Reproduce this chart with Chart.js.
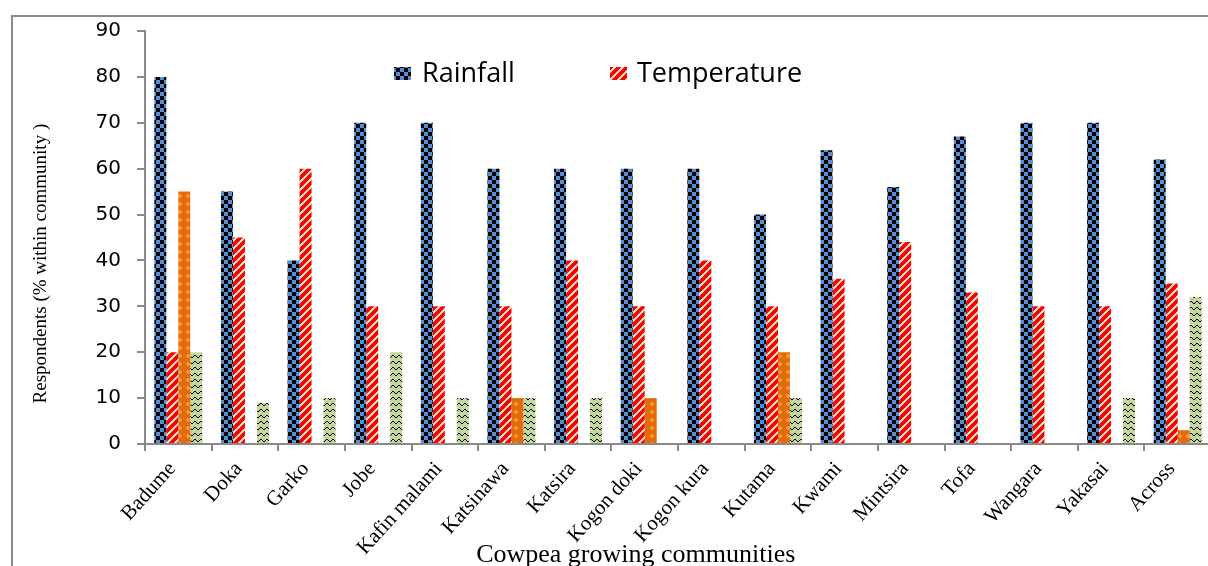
<!DOCTYPE html>
<html><head><meta charset="utf-8">
<script src="https://cdn.jsdelivr.net/npm/chart.js@4.4.1/dist/chart.umd.min.js"></script>
<style>
html,body{margin:0;padding:0;background:#fff;overflow:hidden;width:1208px;height:566px;}
#frame{position:absolute;left:11px;top:15px;width:1400px;height:800px;border:2px solid #8a8a8a;box-sizing:border-box;}
#wrap{position:absolute;left:0;top:0;width:1211px;height:566px;}
</style></head>
<body><div id="frame"></div><div id="wrap"><canvas id="c"></canvas></div>
<script>
const categories = ['Badume','Doka','Garko','Jobe','Kafin malami','Katsinawa','Katsira','Kogon doki','Kogon kura','Kutama','Kwami','Mintsira','Tofa','Wangara','Yakasai','Across'];
const rainfall    = [80,55,40,70,70,60,60,60,60,50,64,56,67,70,70,62];
const temperature = [20,45,60,30,30,30,40,30,40,30,36,44,33,30,30,35];
const series3     = [55,0,0,0,0,10,0,10,0,20,0,0,0,0,0,3];
const series4     = [20,9,10,20,10,10,10,0,0,10,0,0,0,0,10,32];
const seriesNames = ['Rainfall','Temperature','Series 3','Series 4'];
const yTicks = [0,10,20,30,40,50,60,70,80,90];

function makePattern(w, h, fn) {
  const c = document.createElement('canvas');
  c.width = w; c.height = h;
  const g = c.getContext('2d');
  const img = g.createImageData(w, h);
  for (let y = 0; y < h; y++) for (let x = 0; x < w; x++) {
    const col = fn(x, y);
    const i = (y * w + x) * 4;
    img.data[i] = col[0]; img.data[i+1] = col[1]; img.data[i+2] = col[2]; img.data[i+3] = 255;
  }
  g.putImageData(img, 0, 0);
  return g.createPattern(c, 'repeat');
}
const BLUE = [86,142,213], BLACK = [0,0,0], RED = [255,0,0], BEIGE = [221,217,195];
const ORD = [227,108,9], ORL = [247,150,70], GRN = [195,214,155];
const pRain = makePattern(8, 8, (x, y) => ((x < 4) === (y < 4)) ? BLACK : BLUE);
const pTemp = makePattern(8, 8, (x, y) => ((x + y) % 8 < 3) ? BEIGE : RED);
const pOrange = makePattern(8, 8, (x, y) => (Math.abs(x - 3.5) + Math.abs(y - 3.5) < 3) ? ORL : ORD);
const zig = [3,2,1,1,2,3];
const pGreen = makePattern(6, 6, (x, y) => (zig[x] === y) ? BLACK : GRN);
const patterns = [pRain, pTemp, pOrange, pGreen];

const insideLegend = {
  id: 'insideLegend',
  afterDraw(chart) {
    const {ctx, chartArea} = chart;
    const pos = [{bx: 249, tx: 277}, {bx: 465, tx: 492}];
    ctx.save();
    ctx.font = '27px "Open Sans"';
    ctx.textBaseline = 'alphabetic';
    pos.forEach((p, i) => {
      const ds = chart.data.datasets[i];
      ctx.fillStyle = ds.backgroundColor;
      ctx.fillRect(chartArea.left + p.bx, chartArea.top + 36, 17, 13);
      ctx.fillStyle = '#000';
      ctx.fillText(ds.label, chartArea.left + p.tx, chartArea.top + 51);
    });
    ctx.restore();
  }
};

const datasets = [rainfall, temperature, series3, series4].map((d, i) => ({
  label: seriesNames[i],
  data: d,
  backgroundColor: patterns[i],
  borderWidth: 0,
  barPercentage: 1.0,
  categoryPercentage: 0.72
}));

new Chart(document.getElementById('c'), {
  type: 'bar',
  data: { labels: categories, datasets },
  plugins: [insideLegend],
  options: {
    responsive: true,
    maintainAspectRatio: false,
    animation: false,
    layout: { padding: { top: 31, left: 0, right: 0, bottom: 0 } },
    plugins: { legend: { display: false }, tooltip: { enabled: false } },
    scales: {
      x: {
        grid: { display: true, drawOnChartArea: false, drawTicks: true, tickLength: 7, color: '#898989', lineWidth: 2, offset: true },
        border: { display: true, color: '#898989', width: 2 },
        ticks: {
          autoSkip: false, minRotation: 48, maxRotation: 48, padding: 6, labelOffset: -6,
          color: '#000', font: { family: '"Liberation Serif"', size: 21 }
        },
        title: {
          display: true,
          text: 'Cowpea growing communities' + '\u00a0'.repeat(13),
          color: '#000',
          font: { family: '"Liberation Serif"', size: 26, lineHeight: 0.8 },
          padding: { top: 0, bottom: 0 }
        },
        afterFit(scale) { scale.height = 122; }
      },
      y: {
        min: 0, max: 90,
        afterBuildTicks(scale) { scale.ticks = yTicks.map(v => ({ value: v })); },
        grid: { display: true, drawOnChartArea: false, drawTicks: true, tickLength: 8, color: '#898989', lineWidth: 2 },
        border: { display: true, color: '#898989', width: 2 },
        ticks: { padding: 16, color: '#000', font: { family: '"DejaVu Sans"', size: 20 } },
        title: {
          display: true,
          text: 'Respondents (% within community )' + '\u00a0'.repeat(11),
          color: '#000',
          font: { family: '"Liberation Serif"', size: 19 },
          padding: { top: 30, bottom: 0 }
        },
        afterFit(scale) { scale.width = 145; }
      }
    }
  }
});
</script>
</body></html>
